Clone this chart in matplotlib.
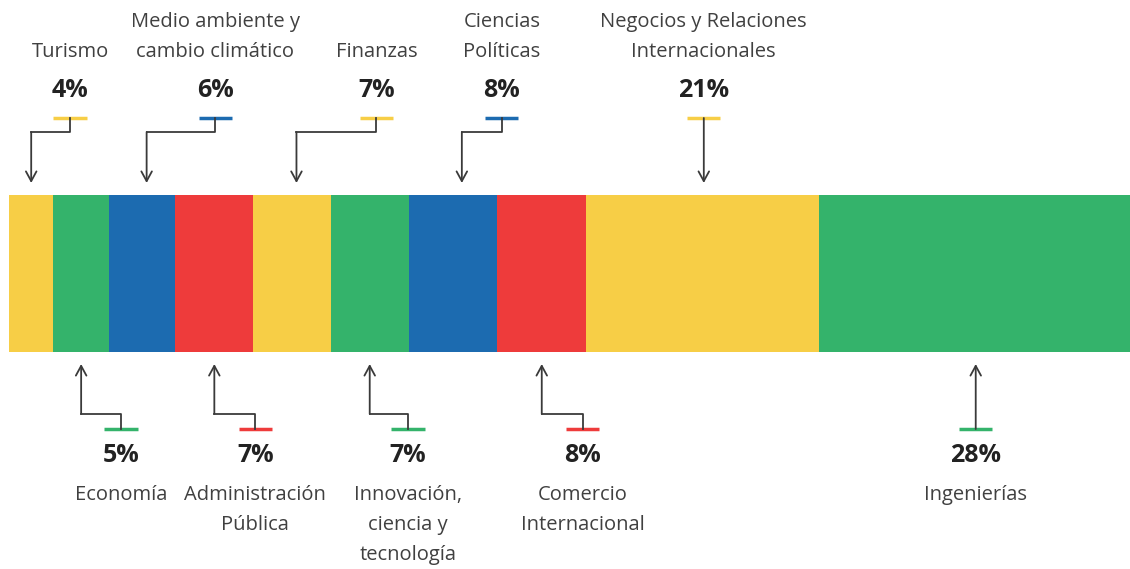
import matplotlib.pyplot as plt

# data
categories = ['Turismo', 'Economía', 'Medio ambiente y\ncambio climático',
              'Administración\nPública', 'Finanzas', 'Innovación,\nciencia y\ntecnología',
              'Ciencias\nPolíticas', 'Comercio\nInternacional',
              'Negocios y Relaciones\nInternacionales', 'Ingenierías']
values = [4, 5, 6, 7, 7, 7, 8, 8, 21, 28]
colours = ['#F7CE46', '#34B36B', '#1C6BB0', '#EE3B3B', '#F7CE46',
           '#34B36B', '#1C6BB0', '#EE3B3B', '#F7CE46', '#34B36B']
side = ['up', 'down', 'up', 'down', 'up', 'down', 'up', 'down', 'up', 'down']

# layout: x of the label block (in % units of the bar), arrow offsets
label_x = [5.5, 10.1, 18.6, 22.2, 33.1, 35.95, 44.4, 51.7, 62.6, 87.1]
arrow_shift = [0, 0, 0.4, 0, 0.4, 0, 0.8, 0, 0, 0]

plt.rcParams['font.family'] = ['Open Sans', 'DejaVu Sans']

fig = plt.figure(figsize=(11.3, 5.69), dpi=100)
ax = fig.add_axes([9 / 1130, 0, 1121 / 1130, 1])
ax.set_xlim(0, sum(values))
ax.set_ylim(569, 0)   # pixel-like vertical layout
ax.axis('off')

bar_top, bar_bot = 195, 352
line_col = '#3a3a3a'
text_col = '#404040'
pct_col = '#222222'
step = 30

left = 0
for i, v in enumerate(values):
    ax.barh((bar_top + bar_bot) / 2, v, left=left, height=bar_bot - bar_top,
            color=colours[i], linewidth=0)
    cx = left + v / 2 + arrow_shift[i]
    tx = label_x[i]
    lines = categories[i].split('\n')
    if side[i] == 'up':
        tick_y, elbow_y, tip_y = 118, 132, 183
        pct_y = 90
        line_y = [52 - step * (len(lines) - 1 - k) for k in range(len(lines))]
    else:
        tick_y, elbow_y, tip_y = 429, 414, 364
        pct_y = 455
        line_y = [495 + step * k for k in range(len(lines))]
    ax.plot([tx - 1.5, tx + 1.5], [tick_y, tick_y], color=colours[i], lw=2.5,
            solid_capstyle='butt')
    if abs(tx - cx) > 0.3:
        ax.plot([tx, tx, cx], [tick_y, elbow_y, elbow_y], color=line_col, lw=1.3)
        start_y = elbow_y
    else:
        cx = tx
        start_y = tick_y
    ax.annotate('', xy=(cx, tip_y), xytext=(cx, start_y),
                arrowprops=dict(arrowstyle='->,head_length=0.7,head_width=0.38',
                                color=line_col, lw=1.3, shrinkA=0, shrinkB=0))
    ax.text(tx, pct_y, '{}%'.format(v), ha='center', va='center', fontsize=18,
            fontweight='bold', color=pct_col)
    for ly, txt in zip(line_y, lines):
        ax.text(tx, ly, txt, ha='center', va='center', fontsize=14.5,
                color=text_col)
    left += v

fig.savefig('out.png', dpi=100)
